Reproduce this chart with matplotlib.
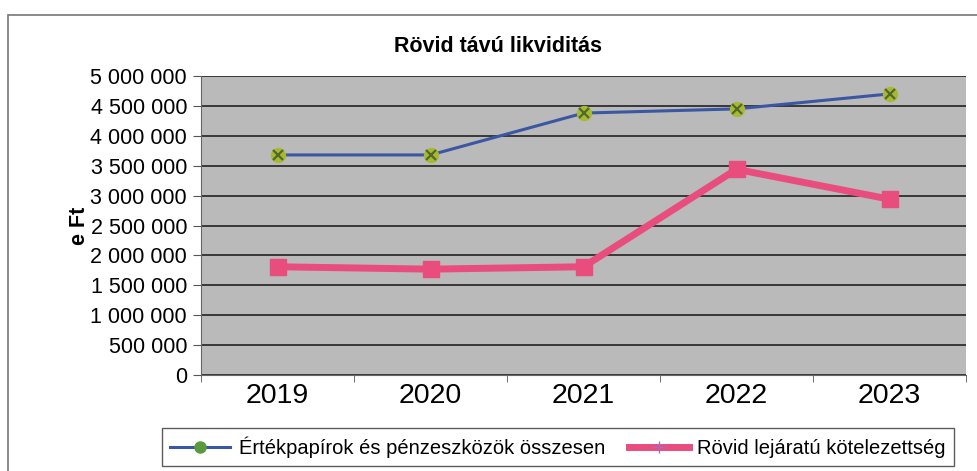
import matplotlib.pyplot as plt
from matplotlib.patches import Rectangle

plt.rcParams['font.family'] = ['Liberation Sans', 'DejaVu Sans']

years = ['2019', '2020', '2021', '2022', '2023']
ertekpapir = [3680000, 3680000, 4380000, 4450000, 4700000]
rovid_kot = [1810000, 1770000, 1810000, 3440000, 2940000]
yticks = list(range(0, 5000001, 500000))
ytick_labels = ['{:,}'.format(v).replace(',', ' ') for v in yticks]

fig = plt.figure(figsize=(9.77, 4.71), dpi=100)
ax = fig.add_axes([201 / 977, 1 - 375 / 471, 765 / 977, 299 / 471])
ax.set_facecolor('#bababa')

x = list(range(len(years)))
ax.plot(x, ertekpapir, color='#3b57a3', lw=2.2, zorder=3)
ax.plot(x, ertekpapir, ls='none', marker='o', ms=10, mfc='#a8b832', mec='#a8b832', zorder=4)
ax.plot(x, ertekpapir, ls='none', marker='x', ms=7, mew=1.6, color='#4f6a2a', zorder=5)
ax.plot(x, rovid_kot, color='#e84d7e', lw=5, marker='s', ms=11, mfc='#e84d7e', mec='#e84d7e', zorder=3)

ax.set_xlim(-0.5, len(years) - 0.5)
ax.set_ylim(0, 5000000)
ax.set_yticks(yticks)
ax.set_yticklabels(ytick_labels, fontsize=15.5)
ax.set_xticks(x)
ax.set_xticklabels(years, fontsize=20.5)
ax.set_xticks([i - 0.5 for i in range(len(years) + 1)], minor=True)
ax.tick_params(axis='x', which='major', length=0, pad=6)
ax.tick_params(axis='x', which='minor', length=5, color='#555555')
ax.tick_params(axis='y', length=6, color='#555555', pad=4)
ax.grid(axis='y', color='#222222', lw=1.2)
ax.set_axisbelow(True)
for side in ['top', 'right']:
    ax.spines[side].set_visible(False)
ax.spines['left'].set_color('#666666')
ax.spines['bottom'].set_color('#666666')

ax.set_ylabel('e Ft', fontsize=15.5, fontweight='bold', labelpad=0)
fig.text(498 / 977, 1 - 47 / 471, 'Rövid távú likviditás', fontsize=15.5, fontweight='bold',
         ha='center', va='center')

h1, = ax.plot([], [], color='#3b57a3', lw=2.2, marker='o', ms=8, mfc='#5a9a3c', mec='#5a9a3c')
h2, = ax.plot([], [], color='#e84d7e', lw=5, marker='+', ms=8, mec='#a070c0')
leg = fig.legend([h1, h2], ['Értékpapírok és pénzeszközök összesen', 'Rövid lejáratú kötelezettség'],
                 loc='center', bbox_to_anchor=(558 / 977, 1 - 447 / 471), ncol=2, fontsize=14.5,
                 frameon=True, fancybox=False, edgecolor='#333333', handlelength=3,
                 columnspacing=1.2, handletextpad=0.4, borderpad=0.4)
leg.get_frame().set_linewidth(1.0)

fig.patches.append(Rectangle((8 / 977, -0.02), 1.0, 1.02 - 15 / 471, transform=fig.transFigure,
                             fill=False, edgecolor='#777777', lw=1.2))

fig.savefig('out.png', dpi=100)
